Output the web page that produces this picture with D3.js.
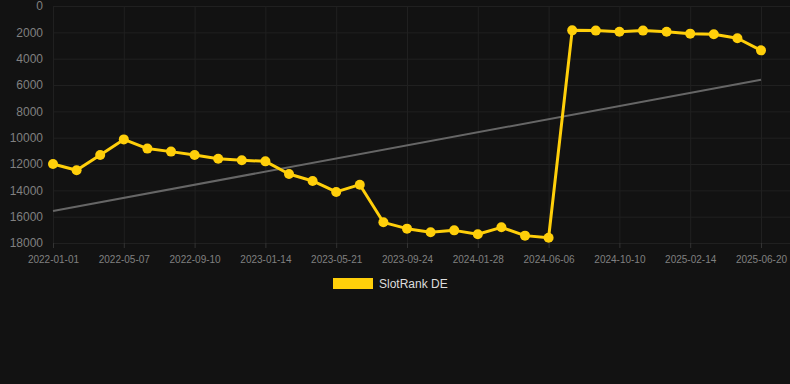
<!DOCTYPE html>
<html>
<head>
<meta charset="utf-8">
<script src="https://cdn.jsdelivr.net/npm/d3@7"></script>
<style>
  html, body { margin: 0; padding: 0; background: #121212; }
  svg { display: block; }
</style>
</head>
<body>
<svg id="chart" width="790" height="384"></svg>
<script>
// one point every ~6 weeks, labels on every third one
const dates = [
  "2022-01-01", "2022-02-12", "2022-03-26",
  "2022-05-07", "2022-06-18", "2022-07-30",
  "2022-09-10", "2022-10-22", "2022-12-03",
  "2023-01-14", "2023-02-25", "2023-04-08",
  "2023-05-21", "2023-07-02", "2023-08-13",
  "2023-09-24", "2023-11-05", "2023-12-17",
  "2024-01-28", "2024-03-12", "2024-04-24",
  "2024-06-06", "2024-07-18", "2024-08-29",
  "2024-10-10", "2024-11-21", "2025-01-02",
  "2025-02-14", "2025-03-28", "2025-05-09",
  "2025-06-20"
];
const rankDE = [
  12000, 12480, 11320, 10130, 10830, 11060, 11320, 11600, 11720, 11800,
  12760, 13290, 14120, 13570, 16430, 16910, 17190, 17040, 17340, 16810,
  17440, 17600, 1850, 1870, 1950, 1870, 1950, 2100, 2150, 2450, 3370
];
const trend = [15570, 5600];
const yTicks = [0, 2000, 4000, 6000, 8000, 10000, 12000, 14000, 16000, 18000];
const seriesName = "SlotRank DE";

const width = 790, height = 384;
const svg = d3.select("#chart");

let x = d3.scalePoint().domain(dates).range([53, 761]);
let y = d3.scaleLinear().domain([0, 18000]).range([6, 243]);

const gridColor = "#202020";
const labelColor = "#808080";
const yellow = "#ffcf0a";

// horizontal grid
svg.append("g").selectAll("line").data(yTicks).join("line")
  .attr("x1", 53).attr("x2", width)
  .attr("y1", d => y(d) + 0.5).attr("y2", d => y(d) + 0.5)
  .attr("stroke", gridColor);

// vertical grid on labelled dates
const xTicks = dates.filter((d, i) => i % 3 == 0);
svg.append("g").selectAll("line").data(xTicks).join("line")
  .attr("x1", d => x(d) + 0.5).attr("x2", d => x(d) + 0.5)
  .attr("y1", 6).attr("y2", 243)
  .attr("stroke", gridColor);

// y axis
let yAxis = svg.append("g")
  .attr("transform", `translate(${43},0)`)
  .call(d3.axisLeft(y).tickValues(yTicks).tickSize(0).tickPadding(0).tickFormat(d3.format("d")));
yAxis.select(".domain").remove();
yAxis.selectAll("text")
  .attr("fill", labelColor)
  .style("font-family", "Liberation Sans, Arial, sans-serif")
  .style("font-size", "12px");

// x axis
let xAxis = svg.append("g")
  .attr("transform", `translate(0,${243})`)
  .call(d3.axisBottom(x).tickValues(xTicks).tickSize(5).tickPadding(8));
xAxis.select(".domain").remove();
xAxis.selectAll("line").attr("stroke", "#333");
xAxis.selectAll("text")
  .attr("fill", labelColor)
  .style("font-family", "Liberation Sans, Arial, sans-serif")
  .style("font-size", "10px");

// trend line
svg.append("line")
  .attr("x1", x(dates[0])).attr("x2", x(dates[dates.length - 1]))
  .attr("y1", y(trend[0])).attr("y2", y(trend[1]))
  .attr("stroke", "#666")
  .attr("stroke-width", 2);

// rank line
let line = d3.line().x((d, i) => x(dates[i])).y(d => y(d));
svg.append("path")
  .datum(rankDE)
  .attr("d", line)
  .attr("fill", "none")
  .attr("stroke", yellow)
  .attr("stroke-width", 3)
  .attr("stroke-linejoin", "round");

svg.append("g").selectAll("circle").data(rankDE).join("circle")
  .attr("cx", (d, i) => x(dates[i]))
  .attr("cy", d => y(d))
  .attr("r", 5)
  .attr("fill", yellow);

// legend
svg.append("rect")
  .attr("x", 333).attr("y", 278)
  .attr("width", 40).attr("height", 11)
  .attr("fill", yellow);
svg.append("text")
  .attr("x", 379).attr("y", 288)
  .attr("fill", "#dddddd")
  .style("font-family", "Liberation Sans, Arial, sans-serif")
  .style("font-size", "12px")
  .text(seriesName);
</script>
</body>
</html>
